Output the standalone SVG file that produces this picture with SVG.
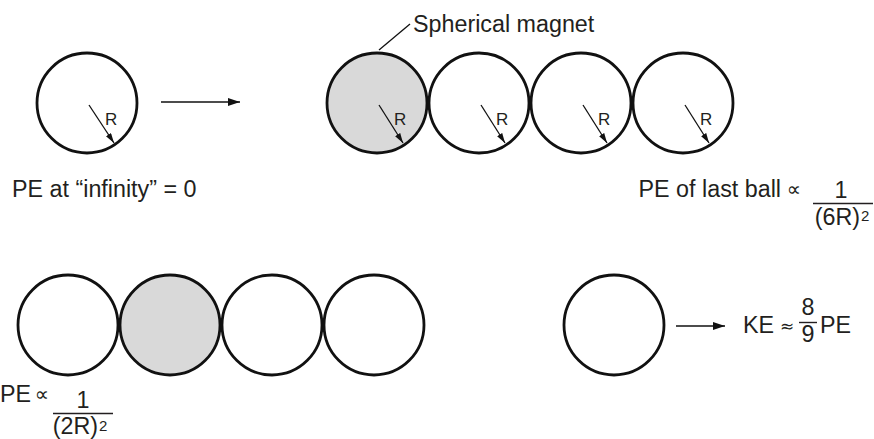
<svg xmlns="http://www.w3.org/2000/svg" width="874" height="439" viewBox="0 0 874 439">
<style>
.ball{fill:#fff;stroke:#111;stroke-width:2.8}
.mag{fill:#d9d9d9;stroke:#111;stroke-width:2.8}
.t{font-family:"Liberation Sans",Arial,sans-serif;font-size:23.3px;fill:#231f20}
.r{font-family:"Liberation Sans",Arial,sans-serif;font-size:17px;fill:#231f20}
.sup{font-family:"Liberation Sans",Arial,sans-serif;font-size:15px;fill:#231f20}
.sym{font-family:"DejaVu Sans","Liberation Sans",sans-serif;font-size:20px;fill:#231f20}
.rad{stroke:#111;stroke-width:1.3;fill:none;marker-end:url(#ah)}
.arr{stroke:#111;stroke-width:1.6;fill:none;marker-end:url(#ah2)}
.ln{stroke:#111;stroke-width:1.3;fill:none}
.frac{stroke:#231f20;stroke-width:1.4}
</style>
<defs>
<marker id="ah" viewBox="0 0 10 6" refX="10" refY="3" markerWidth="10" markerHeight="6" markerUnits="userSpaceOnUse" orient="auto"><path d="M0,0 L10,3 L0,6 Z" fill="#111"/></marker>
<marker id="ah2" viewBox="0 0 12 8" refX="12" refY="4" markerWidth="12" markerHeight="8" markerUnits="userSpaceOnUse" orient="auto"><path d="M0,0 L12,4 L0,8 Z" fill="#111"/></marker>
</defs>

<g id="ball-single">
<circle class="ball" cx="87" cy="103" r="50"/>
<line class="rad" x1="89" y1="105" x2="114" y2="143"/>
<text class="r" x="105" y="125">R</text>
</g>
<g id="label-infinity"><text class="t" x="12" y="197">PE at “infinity” = 0</text></g>

<g id="top-ball-1">
<circle class="mag" cx="377" cy="103" r="50"/>
<line class="rad" x1="379" y1="105" x2="403" y2="143"/>
<text class="r" x="394" y="125">R</text>
</g>
<g id="top-ball-2">
<circle class="ball" cx="479" cy="103" r="50"/>
<line class="rad" x1="481" y1="105" x2="505" y2="143"/>
<text class="r" x="496" y="125">R</text>
</g>
<g id="top-ball-3">
<circle class="ball" cx="581" cy="103" r="50"/>
<line class="rad" x1="583" y1="105" x2="607" y2="143"/>
<text class="r" x="598" y="125">R</text>
</g>
<g id="top-ball-4">
<circle class="ball" cx="683" cy="103" r="50"/>
<line class="rad" x1="685" y1="105" x2="709" y2="143"/>
<text class="r" x="700" y="125">R</text>
</g>
<g id="label-magnet"><text class="t" x="413" y="32">Spherical magnet</text></g>
<g id="label-last-ball">
<text class="t" x="781" y="197" text-anchor="end">PE of last ball</text>
<text class="sym" x="794" y="196" text-anchor="middle">∝</text>
<text class="t" x="841" y="198" text-anchor="middle">1</text>
<line class="frac" x1="813" y1="203.5" x2="873" y2="203.5"/>
<text class="t" x="860" y="225" text-anchor="end">(6R)</text>
<text class="sup" x="861" y="221">2</text>
</g>

<g id="bottom-ball-1"><circle class="ball" cx="68" cy="325" r="50"/></g>
<g id="bottom-ball-2"><circle class="mag" cx="170" cy="325" r="50"/></g>
<g id="bottom-ball-3"><circle class="ball" cx="272" cy="325" r="50"/></g>
<g id="bottom-ball-4"><circle class="ball" cx="374" cy="325" r="50"/></g>
<g id="label-pe-2r">
<text class="t" x="31" y="402" text-anchor="end">PE</text>
<text class="sym" x="42" y="401" text-anchor="middle">∝</text>
<text class="t" x="83" y="408" text-anchor="middle">1</text>
<line class="frac" x1="53" y1="413.5" x2="113" y2="413.5"/>
<text class="t" x="98" y="434" text-anchor="end">(2R)</text>
<text class="sup" x="99" y="431">2</text>
</g>

<g id="ball-released"><circle class="ball" cx="614" cy="325" r="50"/></g>
<g id="label-ke">
<text class="t" x="743" y="333">KE</text>
<text class="sym" x="787" y="332" text-anchor="middle" style="font-size:17px">≈</text>
<text class="t" x="808" y="315" text-anchor="middle">8</text>
<line class="frac" x1="799" y1="322.5" x2="817" y2="322.5"/>
<text class="t" x="808" y="342" text-anchor="middle">9</text>
<text class="t" x="820" y="333">PE</text>
</g>

<g id="connectors">
<line class="arr" x1="161" y1="102" x2="240" y2="102"/>
<line class="ln" x1="379" y1="50" x2="410" y2="24"/>
<line class="arr" x1="676" y1="326" x2="725" y2="326"/>
</g>
</svg>
